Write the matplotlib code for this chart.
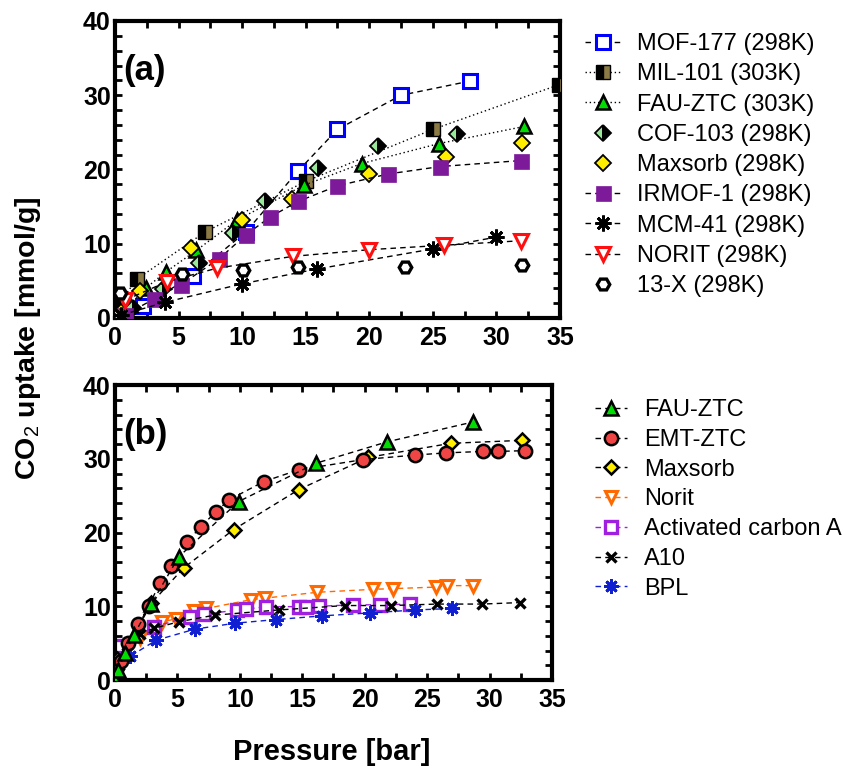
import matplotlib
matplotlib.use("Agg")
import matplotlib.pyplot as plt
from matplotlib.ticker import MultipleLocator

plt.rcParams['font.family'] = ['Liberation Sans', 'DejaVu Sans']
plt.rcParams['mathtext.fontset'] = 'custom'
plt.rcParams['mathtext.rm'] = 'Liberation Sans'
plt.rcParams['mathtext.bf'] = 'Liberation Sans:bold'

# ---- panel (a): CO2 isotherms of different sorbents ----
mof177_p = [0.3, 2.2, 6.1, 10.3, 14.4, 17.5, 22.5, 27.9]
mof177_q = [0.4, 1.6, 5.7, 11.6, 19.8, 25.4, 30.0, 31.9]

mil101_p = [0.4, 1.7, 7.1, 15.0, 25.0, 34.9]
mil101_q = [2.1, 5.2, 11.6, 18.4, 25.4, 31.4]

fau_a_p = [0.3, 1.2, 2.4, 4.0, 6.4, 9.6, 14.9, 19.4, 25.5, 32.2]
fau_a_q = [0.2, 1.8, 4.0, 6.2, 9.1, 13.2, 17.9, 20.8, 23.5, 25.8]

cof103_p = [0.3, 1.4, 3.8, 6.6, 9.3, 11.8, 16.0, 20.7, 26.9]
cof103_q = [0.5, 1.4, 3.9, 7.4, 11.5, 15.7, 20.2, 23.2, 24.8]

maxsorb_a_p = [0.5, 2.0, 6.0, 10.0, 13.9, 20.0, 26.0, 32.0]
maxsorb_a_q = [0.85, 3.7, 9.4, 13.2, 16.0, 19.4, 21.7, 23.6]

irmof1_p = [0.8, 3.1, 5.2, 8.2, 10.3, 12.2, 14.4, 17.5, 21.5, 25.6, 31.9]
irmof1_q = [0.4, 2.6, 4.5, 8.0, 11.2, 13.6, 15.7, 17.8, 19.4, 20.4, 21.2]

mcm41_p = [0.5, 3.9, 10.0, 15.9, 25.0, 30.0]
mcm41_q = [0.4, 2.1, 4.6, 6.6, 9.3, 10.9]

norit_a_p = [0.8, 4.1, 8.0, 14.0, 20.0, 25.9, 31.9]
norit_a_q = [2.4, 4.9, 6.7, 8.3, 9.2, 9.8, 10.4]

x13_p = [0.4, 5.3, 10.1, 14.4, 22.8, 32.0]
x13_q = [3.3, 5.9, 6.4, 6.8, 6.9, 7.2]

# ---- panel (b): carbon materials ----
fau_b_p = [0.0, 0.26, 0.8, 1.5, 2.9, 5.1, 9.9, 16.1, 21.8, 28.7]
fau_b_q = [0.0, 1.4, 3.6, 6.1, 10.3, 16.7, 24.2, 29.4, 32.3, 35.0]

emt_p = [0.2, 0.5, 1.07, 1.87, 2.7, 3.6, 4.5, 5.8, 6.85, 8.1, 9.1, 11.9, 14.7,
         19.9, 24.0, 26.5, 29.5, 30.7, 32.8]
emt_q = [1.7, 2.6, 5.0, 7.6, 10.0, 13.2, 15.5, 18.7, 20.8, 22.8, 24.4, 26.9, 28.5,
         29.9, 30.5, 30.8, 31.0, 31.0, 31.1]

maxsorb_b_p = [0.2, 2.9, 5.5, 9.5, 14.7, 20.3, 26.9, 32.6]
maxsorb_b_q = [2.8, 10.4, 15.2, 20.4, 25.8, 30.2, 32.1, 32.5]

norit_b_p = [0.0, 2.0, 3.8, 4.9, 6.3, 7.3, 10.9, 12.0, 16.2, 20.7, 22.3, 25.7, 26.6, 28.7]
norit_b_q = [2.4, 5.7, 7.9, 8.3, 9.3, 9.7, 10.9, 11.1, 11.9, 12.3, 12.4, 12.6, 12.8, 12.8]

acta_p = [0.4, 3.1, 6.0, 7.1, 9.8, 10.5, 12.1, 14.7, 15.3, 16.3, 19.1, 21.2, 23.6]
acta_q = [4.6, 7.2, 8.6, 8.9, 9.5, 9.6, 9.95, 9.95, 9.95, 10.0, 10.2, 10.2, 10.3]

a10_p = [0.3, 1.0, 2.0, 3.1, 5.1, 8.0, 13.1, 18.4, 22.1, 25.8, 29.4, 32.4]
a10_q = [2.0, 4.8, 6.3, 7.0, 7.9, 8.8, 9.5, 10.1, 10.1, 10.3, 10.3, 10.5]

bpl_p = [0.0, 1.2, 3.3, 6.4, 9.6, 12.9, 16.6, 20.4, 24.0, 27.0]
bpl_q = [1.8, 3.2, 5.4, 6.9, 7.7, 8.2, 8.7, 9.1, 9.5, 9.7]

dash = (0, (4, 3))
dot = (0, (1, 2))
star8 = (8, 2, 0)

fig = plt.figure(figsize=(8.43, 7.69), dpi=100)
ax1 = fig.add_axes([0.1364, 0.5865, 0.5279, 0.3862])
ax2 = fig.add_axes([0.1364, 0.1157, 0.5184, 0.3836])

# panel (a)
ax1.plot(mof177_p, mof177_q, ls=dash, color='black', lw=1, marker='s', ms=9.5,
         mfc='white', mec='#0000ff', mew=2.2, label='MOF-177 (298K)', zorder=3)
ax1.plot(mil101_p, mil101_q, ls=dot, color='black', lw=1, marker='s', ms=10,
         fillstyle='left', mfc='black', mfcalt='#8c7a45', mec='black', mew=1,
         label='MIL-101 (303K)', zorder=3)
ax1.plot(fau_a_p, fau_a_q, ls=dot, color='black', lw=1, marker='^', ms=10,
         mfc='#00dd00', mec='black', mew=1.8, label='FAU-ZTC (303K)', zorder=3)
ax1.plot(cof103_p, cof103_q, ls='none', marker='D', ms=8.4, fillstyle='left',
         mfc='#9ae89a', mfcalt='black', mec='black', mew=1.3,
         label='COF-103 (298K)', zorder=3)
ax1.plot(maxsorb_a_p, maxsorb_a_q, ls='none', marker='D', ms=8.4, mfc='#ffee00',
         mec='black', mew=1.3, label='Maxsorb (298K)', zorder=3)
ax1.plot(irmof1_p, irmof1_q, ls=dash, color='black', lw=1, marker='s', ms=10.8,
         mfc='#7d1a9a', mec='#7d1a9a', mew=0.5, label='IRMOF-1 (298K)', zorder=3)
ax1.plot(mcm41_p, mcm41_q, ls=dash, color='black', lw=1, marker=star8, ms=11.4,
         mec='black', mew=2, label='MCM-41 (298K)', zorder=3)
ax1.plot(norit_a_p, norit_a_q, ls=dash, color='black', lw=1, marker='v', ms=10,
         mfc='white', mec='#ff1010', mew=2.2, label='NORIT (298K)', zorder=3)
ax1.plot(x13_p, x13_q, ls='none', marker='H', ms=9, mfc='white', mec='black',
         mew=2.4, label='13-X (298K)', zorder=3)

# panel (b)
ax2.plot(fau_b_p, fau_b_q, ls=dash, color='black', lw=1, marker='^', ms=10,
         mfc='#00dd00', mec='black', mew=1.8, label='FAU-ZTC', zorder=5)
ax2.plot(emt_p, emt_q, ls=dash, color='black', lw=1, marker='o', ms=9.6,
         mfc='#f04545', mec='black', mew=1.8, label='EMT-ZTC', zorder=4)
ax2.plot(maxsorb_b_p, maxsorb_b_q, ls=dash, color='black', lw=1, marker='D', ms=7.5,
         mfc='#ffee00', mec='black', mew=1.8, label='Maxsorb', zorder=3)
ax2.plot(norit_b_p, norit_b_q, ls=dash, color='#ff6a00', lw=1, marker='v', ms=9,
         mfc='white', mec='#ff6a00', mew=2.2, label='Norit', zorder=2)
ax2.plot(acta_p, acta_q, ls=dash, color='#a020e0', lw=1, marker='s', ms=9,
         mfc='white', mec='#a020e0', mew=2.4, label='Activated carbon A', zorder=2)
ax2.plot(a10_p, a10_q, ls=dash, color='black', lw=1, marker='x', ms=7.2,
         mec='black', mew=2.4, label='A10', zorder=2)
ax2.plot(bpl_p, bpl_q, ls=dash, color='#1020d0', lw=1, marker=star8, ms=10.2,
         mec='#1020d0', mew=2, label='BPL', zorder=2)

for ax in (ax1, ax2):
    ax.set_xlim(0, 35)
    ax.set_ylim(0, 40)
    ax.xaxis.set_major_locator(MultipleLocator(5))
    ax.xaxis.set_minor_locator(MultipleLocator(2.5))
    ax.yaxis.set_major_locator(MultipleLocator(10))
    ax.yaxis.set_minor_locator(MultipleLocator(2))
    ax.tick_params(which='both', direction='in', top=True, right=True,
                   length=5, width=2)
    ax.tick_params(axis='x', pad=6)
    ax.tick_params(axis='y', pad=3)
    for s in ax.spines.values():
        s.set_linewidth(3)
    for lab in ax.get_xticklabels() + ax.get_yticklabels():
        lab.set_fontsize(18)
        lab.set_fontweight('bold')

ax1.text(0.018, 0.80, '(a)', transform=ax1.transAxes, fontsize=25,
         fontweight='bold')
ax2.text(0.018, 0.80, '(b)', transform=ax2.transAxes, fontsize=25,
         fontweight='bold')

leg_kw = dict(frameon=False, fontsize=17, numpoints=1, borderpad=0,
              borderaxespad=0, handlelength=1.5, handletextpad=0.72,
              labelspacing=0.35, loc='upper left', bbox_transform=fig.transFigure)
ax1.legend(bbox_to_anchor=(585 / 843, 1 - 33 / 769), **leg_kw)
leg_kw['handlelength'] = 1.36
leg_kw['labelspacing'] = 0.33
ax2.legend(bbox_to_anchor=(595 / 843, 1 - 399 / 769), **leg_kw)

fig.text(332 / 843, 1 - 752 / 769, 'Pressure [bar]', fontsize=21,
         fontweight='bold', ha='center', va='center')
fig.text(28 / 843, 1 - 338 / 769, r'CO$_\mathrm{2}$ uptake [mmol/g]', fontsize=20.5,
         fontweight='bold', ha='center', va='center', rotation=90)

fig.savefig('out.png', dpi=100)
